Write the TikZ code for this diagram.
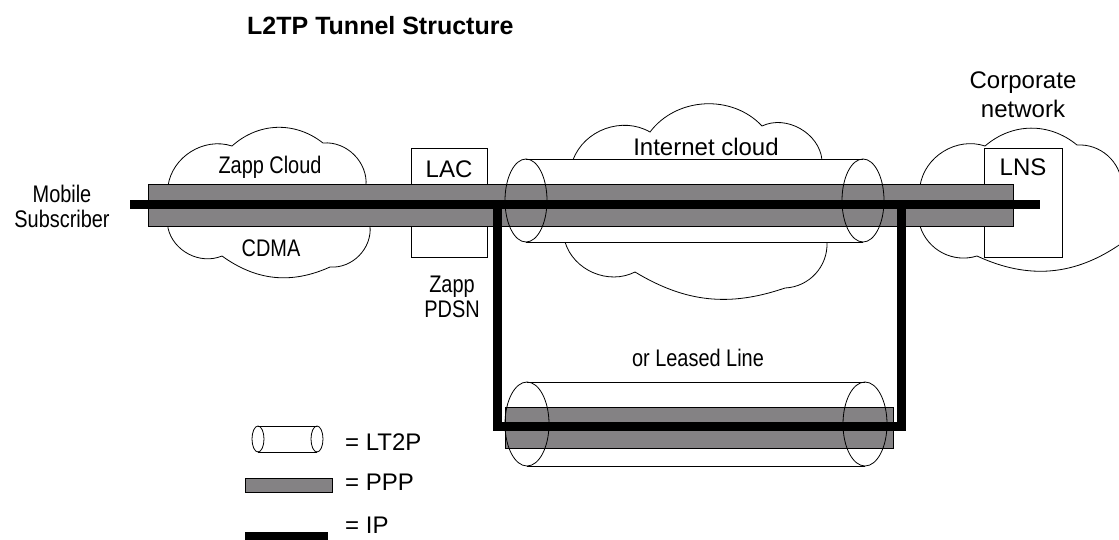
\documentclass[tikz,border=0pt]{standalone}
\usepackage{fontspec}
\setmainfont{Liberation Sans}
\newfontfamily\narrowsf{Liberation Sans}[FakeStretch=0.83]
\definecolor{pppgray}{RGB}{132,130,132}
\begin{document}
\begin{tikzpicture}[x=1pt,y=-1pt,
  lbl/.style={font=\fontsize{24}{29}\selectfont,inner sep=0pt,align=center},
  nlbl/.style={font=\fontsize{24}{25}\narrowsf,inner sep=0pt,align=center},
  cloudline/.style={draw,fill=white,line width=0.8pt},
  box/.style={draw,fill=white,line width=0.8pt},
  ppp/.style={draw,fill=pppgray,line width=0.8pt},
  tube/.style={draw,line width=0.8pt},
  ip/.style={line width=9pt,line join=miter}]
\clip (0,0) rectangle (1119,539);
\draw[cloudline] (168,205) -- (168,186) to[bend left=50] (232,146) to[bend left=40] (323,143) to[bend left=50] (366,186) -- (370,226) to[bend left=50] (330,267) to[bend left=30] (222,256) to[bend left=50] (168,228) -- cycle;
\draw[cloudline] (573,200) -- (573,160) to[bend left=50] (650,132) to[bend left=50] (762,126) to[bend left=55] (822,160) -- (827,242) to[bend left=45] (785,288) to[bend left=25] (635,272) to[bend left=50] (565,242) -- cycle;
\draw[cloudline] (920,205) -- (920,186) to[bend left=50] (985,146) to[bend left=40] (1077,145) to[bend left=45] (1122,185) -- (1122,243) to[bend left=30] (977,256) to[bend left=45] (920,226) -- cycle;
\draw[box] (411,148) rectangle (487,257);
\draw[box] (984,148) rectangle (1062,257);
\fill[white] (526,159) rectangle (863,242);
\draw[tube] (526,159) -- (863,159) (526,242) -- (863,242);
\draw[ppp] (148,184) rectangle (1013,226);
\draw[tube] (526,200.5) ellipse [x radius=21, y radius=41.5];
\draw[tube] (863,200.5) ellipse [x radius=21, y radius=41.5];
\fill[white] (527,382) rectangle (865,466);
\draw[tube] (527,382) -- (865,382) (527,466) -- (865,466);
\draw[ppp] (505,407) rectangle (893,448);
\draw[tube] (527,424) ellipse [x radius=22, y radius=42];
\draw[tube] (865,424) ellipse [x radius=22, y radius=42];
\coordinate (ms) at (130,204);
\coordinate (lnsend) at (1040,204);
\coordinate (pdsnturn) at (497,204);
\coordinate (lnsturn) at (901,204);
\coordinate (leasedL) at (497,426);
\coordinate (leasedR) at (901,426);
\draw[ip] (ms) -- (lnsend);
\draw[ip] (pdsnturn) -- (leasedL) -- (leasedR) -- (lnsturn);
\node[font=\bfseries\fontsize{25}{30}\selectfont,anchor=base west,inner sep=0pt] (title) at (247,34) {L2TP Tunnel Structure};
\node[nlbl] (mobile) at (62,206) {Mobile\\Subscriber};
\node[nlbl] (zappcloud) at (270,167) {Zapp Cloud};
\node[nlbl] (cdma) at (271,248) {CDMA};
\node[lbl] (lac) at (449,169) {LAC};
\node[nlbl] (pdsn) at (452,297) {Zapp\\PDSN};
\node[lbl] (inet) at (706,147) {Internet cloud};
\node[lbl] (corp) at (1023,95) {Corporate\\network};
\node[lbl] (lns) at (1023,167) {LNS};
\node[nlbl] (leased) at (698,358) {or Leased Line};
\fill[white] (258,426) rectangle (317,452);
\draw[tube] (258,426) -- (317,426) (258,452) -- (317,452);
\draw[tube] (258,439) ellipse [x radius=6, y radius=13];
\draw[tube] (317,439) ellipse [x radius=6, y radius=13];
\node[lbl,anchor=west] (lt2p) at (345,442) {= LT2P};
\draw[ppp] (245,478) rectangle (332,492);
\node[lbl,anchor=west] (ppplbl) at (345,482) {= PPP};
\fill (245,532) rectangle (328,541);
\node[lbl,anchor=west] (iplbl) at (345,525) {= IP};
\end{tikzpicture}
\end{document}
